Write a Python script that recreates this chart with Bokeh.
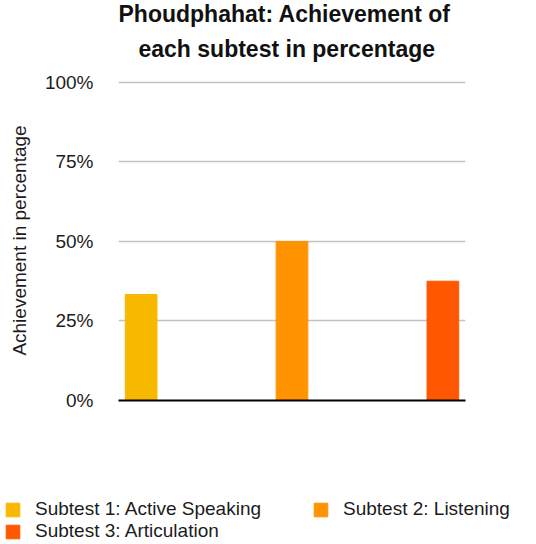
from bokeh.plotting import figure
from bokeh.layouts import column
from bokeh.models import ColumnDataSource, Range1d, FixedTicker, Title, Legend, LegendItem
from bokeh.embed import file_html
from bokeh.resources import INLINE

# ---- data ----
categories = ["Subtest 1: Active Speaking", "Subtest 2: Listening", "Subtest 3: Articulation"]
values = [33.33, 50.0, 37.5]
colors = ["#F9B800", "#FF9400", "#FF5800"]
y_ticks = [0, 25, 50, 75, 100]
title_lines = ["Phoudphahat: Achievement of", "each subtest in percentage"]
y_label = "Achievement in percentage"

FONT = "Liberation Sans"
TXT = "#1c1c1c"

positions = list(range(len(categories)))
src = ColumnDataSource(dict(x=positions, top=values, color=colors, label=categories))

p = figure(frame_width=347, frame_height=320, output_backend="svg", toolbar_location=None,
           x_range=Range1d(-0.15, 2.15), y_range=Range1d(0, 100.6),
           min_border_left=118, min_border_right=71, min_border_bottom=93, min_border_top=80,
           title=title_lines[0])

def style_title(t):
    t.align = "left"
    t.text_font = FONT
    t.text_font_size = "23px"
    t.text_font_style = "bold"
    t.text_color = "#111111"

style_title(p.title)
p.title.offset = 0
p.title.standoff = -25
t2 = Title(text=title_lines[1])
style_title(t2)
t2.offset = 20
t2.standoff = 38
p.add_layout(t2, "above")

r = p.vbar(x="x", top="top", width=0.21, fill_color="color", line_color="color", source=src)

# x axis: baseline only
p.xaxis.major_label_text_font_size = "0px"
p.xaxis.major_tick_line_color = None
p.xaxis.minor_tick_line_color = None
p.xaxis.axis_line_color = "black"
p.xaxis.axis_line_width = 2
p.xaxis.ticker = FixedTicker(ticks=[])

# y axis
p.yaxis.ticker = FixedTicker(ticks=y_ticks)
p.yaxis.major_label_overrides = {t: f"{t}%" for t in y_ticks}
p.yaxis.axis_line_color = None
p.yaxis.major_tick_line_color = None
p.yaxis.minor_tick_line_color = None
p.yaxis.major_tick_out = 0
p.yaxis.major_label_standoff = 25
p.yaxis.major_label_text_font = FONT
p.yaxis.major_label_text_font_size = "19px"
p.yaxis.major_label_text_color = TXT
p.yaxis.axis_label = y_label
p.yaxis.axis_label_text_font = FONT
p.yaxis.axis_label_text_font_size = "19px"
p.yaxis.axis_label_text_font_style = "normal"
p.yaxis.axis_label_text_color = TXT
p.yaxis.axis_label_standoff = 12

p.xgrid.grid_line_color = None
p.ygrid.grid_line_color = "#C2C2C2"
p.ygrid.grid_line_width = 1.5
p.outline_line_color = None

# ---- legend strip (separate figure, bars kept out of view; used only as legend swatches) ----
p2 = figure(width=536, height=51, output_backend="svg", toolbar_location=None,
            x_range=Range1d(-0.15, 2.15), y_range=Range1d(1000, 1001),
            x_axis_location=None, y_axis_location=None, min_border=0)
p2.grid.visible = False
p2.outline_line_color = None
r2 = p2.vbar(x="x", top="top", width=0.21, fill_color="color", line_color="color", source=src)

for fig in (p, p2):
    try:
        fig.frame_align = False
    except Exception:
        pass

leg = Legend(items=[LegendItem(label=c, renderers=[r2], index=i) for i, c in enumerate(categories)])
leg.orientation = "horizontal"
leg.ncols = 2
leg.location = (4, 2)
leg.glyph_width = 17
leg.glyph_height = 17
leg.label_height = 19
leg.label_width = 277
leg.label_standoff = 14
leg.spacing = 0
leg.padding = 0
leg.margin = 0
leg.background_fill_alpha = 0
leg.border_line_color = None
leg.label_text_font = FONT
leg.label_text_font_size = "19px"
leg.label_text_color = TXT
p2.add_layout(leg, "center")

layout = column(p, p2, spacing=0)
open("out.html", "w").write(file_html(layout, INLINE))
